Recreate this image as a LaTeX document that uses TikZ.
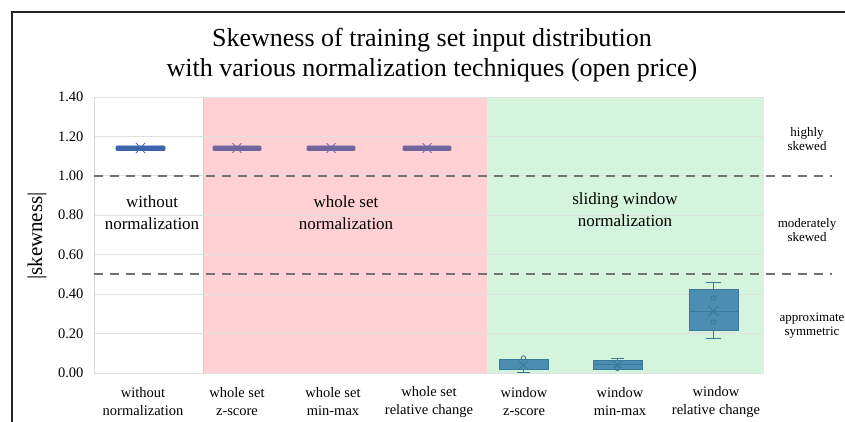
\documentclass[tikz,border=0pt]{standalone}
\usepackage{fontspec}
\setmainfont{Liberation Serif}
\begin{document}
\begin{tikzpicture}[x=1pt,y=-1pt,
  grid/.style={draw=black!12,line width=0.8pt},
  thresh/.style={draw=black!55,line width=1.8pt,dash pattern=on 9pt off 7pt},
  tick/.style={anchor=east,font=\fontsize{14.5}{14.5}\selectfont},
  cat/.style={align=center,font=\fontsize{14.5}{18}\selectfont},
  reg/.style={align=center,font=\fontsize{17}{22}\selectfont},
  side/.style={align=center,font=\fontsize{13}{14}\selectfont},
  flat/.style={fill=#1,draw=#1,line width=0.6pt,rounded corners=0.8pt},
  wbox/.style={fill=boxb,draw=boxd,line width=0.8pt},
  whisk/.style={draw=boxd,line width=0.8pt},
  meanx/.style={draw=#1,line width=0.8pt}
]
\definecolor{pinkbg}{HTML}{FFD1D4}
\definecolor{greenbg}{HTML}{D5F4DE}
\definecolor{boxb}{HTML}{4B8DB3}
\definecolor{boxd}{HTML}{3A7898}
\definecolor{blueA}{HTML}{3D64AA}
\definecolor{purp}{HTML}{6F669E}
\useasboundingbox (0,0) rectangle (845,422);
\fill[white] (0,0) rectangle (845,422);
% frame
\draw[black!85,line width=1.2pt] (12,422) -- (12,12) -- (845,12);
% title
\node[font=\fontsize{26}{30}\selectfont,align=center] (title) at (432,55) {Skewness of training set input distribution\\with various normalization techniques (open price)};
% regions
\fill[pinkbg] (203,97) rectangle (487,373);
\draw[black!20,line width=0.8pt] (203,373) -- (203,97) -- (487,97);
\fill[greenbg] (487,97) rectangle (764,373);
% grid
\foreach \v/\t in {0/0.00,1/0.20,2/0.40,3/0.60,4/0.80,5/1.00,6/1.20,7/1.40}{
  \pgfmathsetmacro{\yy}{373-39.43*\v}
  \draw[grid] (94,\yy) -- (764,\yy);
  \node[tick] (t\v) at (87,\yy) {\t};
}
\draw[black!15,line width=0.8pt] (94,97) -- (94,373);
% dashed thresholds
\draw[thresh] (94,176) -- (832,176);
\draw[thresh] (94,274) -- (832,274);
% axis label
\node[rotate=90,font=\fontsize{21}{21}\selectfont] (ylab) at (37,236) {|skewness|};
% flat boxes
\draw[flat=blueA] (116,146) rectangle (165,150.5);
\draw[meanx=blueA] (136,143)--(145,153) (136,153)--(145,143);
\foreach \cx in {237,331,427}{
  \draw[flat=purp] (\cx-24,146) rectangle (\cx+24,150.5);
  \draw[meanx=purp] (\cx-4.5,143)--(\cx+4.5,153) (\cx-4.5,153)--(\cx+4.5,143);
}
% window z-score
\draw[whisk] (517,372.5) -- (530,372.5) (523.5,372.5) -- (523.5,369);
\draw[wbox] (499,359) rectangle (548,369);
\draw[whisk] (519,361)--(528,369) (519,369)--(528,361);
\draw[whisk] (523.5,358) circle (2.2);
% window min-max
\draw[whisk] (611,358) -- (624,358) (617.5,358) -- (617.5,360);
\draw[wbox] (593,360) rectangle (642,369);
\draw[whisk] (593,364) -- (642,364);
\draw[whisk] (613,361)--(622,368) (613,368)--(622,361);
\draw[whisk] (617.5,368.5) circle (2.2);
% window relative change
\draw[whisk] (706,282) -- (721,282) (713.5,282) -- (713.5,289);
\draw[whisk] (706,338) -- (721,338) (713.5,338) -- (713.5,330);
\draw[wbox] (689,289) rectangle (738,330);
\draw[whisk] (689,311) -- (738,311);
\draw[whisk] (708.5,306)--(718.5,316) (708.5,316)--(718.5,306);
\draw[whisk] (713.5,298) circle (2.2);
\draw[whisk] (713.5,322) circle (2.2);
% region labels
\node[reg] (r1) at (152,213) {without\\normalization};
\node[reg] (r2) at (346,213) {whole set\\normalization};
\node[reg] (r3) at (625,210) {sliding window\\normalization};
% side labels
\node[side] (s1) at (807,139) {highly\\skewed};
\node[side] (s2) at (807,230) {moderately\\skewed};
\node[side] (s3) at (812,326) {approximate\\symmetric};
% category labels
\node[cat] (c1) at (143,402) {without\\normalization};
\node[cat] (c2) at (237,402) {whole set\\z-score};
\node[cat] (c3) at (333,402) {whole set\\min-max};
\node[cat] (c4) at (429,402) {whole set\\relative change};
\node[cat] (c5) at (524,402) {window\\z-score};
\node[cat] (c6) at (620,402) {window\\min-max};
\node[cat] (c7) at (716,402) {window\\relative change};
\end{tikzpicture}
\end{document}
